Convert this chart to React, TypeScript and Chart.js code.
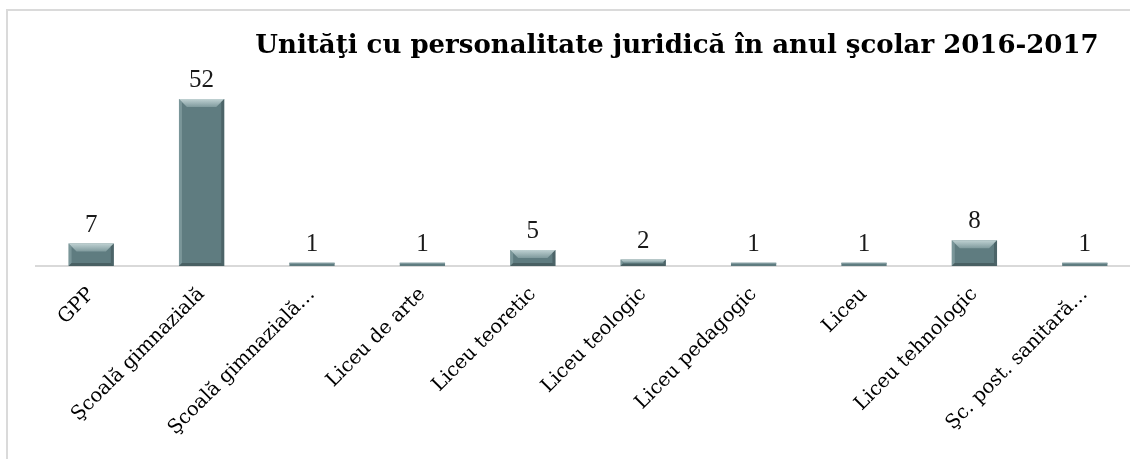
import React, { useEffect, useRef } from "react";
import { Chart, registerables } from "chart.js";

Chart.register(...registerables);

const categories = [
  "GPP",
  "Şcoală gimnazială",
  "Şcoală gimnazială…",
  "Liceu de arte",
  "Liceu teoretic",
  "Liceu teologic",
  "Liceu pedagogic",
  "Liceu",
  "Liceu tehnologic",
  "Şc. post. sanitară…",
];
const values = [7, 52, 1, 1, 5, 2, 1, 1, 8, 1];
const chartTitle = "Unităţi cu personalitate juridică în anul şcolar 2016-2017";

const SERIF = '"DejaVu Serif", "Liberation Serif", serif';
const SERIF2 = '"Liberation Serif", "DejaVu Serif", serif';

const bevelPlugin = {
  id: "bevel",
  afterDatasetsDraw(chart: any) {
    const ctx = chart.ctx;
    const meta = chart.getDatasetMeta(0);
    meta.data.forEach((bar: any) => {
      const w = bar.width;
      const left = bar.x - w / 2;
      const right = bar.x + w / 2;
      const top = bar.y;
      const bottom = bar.base;
      const h = bottom - top;
      if (h < 4) {
        ctx.save();
        ctx.fillStyle = "#86a0a3";
        ctx.fillRect(left, top, w, 1);
        ctx.restore();
        return;
      }
      const b = Math.min(8, h / 2);
      const s = Math.min(3, h / 3);
      ctx.save();
      const g = ctx.createLinearGradient(0, top, 0, top + b);
      g.addColorStop(0, "#bfd1d2");
      g.addColorStop(1, "#7f9a9d");
      ctx.fillStyle = g;
      ctx.beginPath();
      ctx.moveTo(left, top);
      ctx.lineTo(right, top);
      ctx.lineTo(right - b, top + b);
      ctx.lineTo(left + b, top + b);
      ctx.closePath();
      ctx.fill();
      ctx.fillStyle = "rgba(150,175,178,0.5)";
      ctx.beginPath();
      ctx.moveTo(left, top);
      ctx.lineTo(left + s, top + s);
      ctx.lineTo(left + s, bottom - s);
      ctx.lineTo(left, bottom);
      ctx.closePath();
      ctx.fill();
      ctx.fillStyle = "rgba(60,80,83,0.55)";
      ctx.beginPath();
      ctx.moveTo(right, top);
      ctx.lineTo(right - s, top + s);
      ctx.lineTo(right - s, bottom - s);
      ctx.lineTo(right, bottom);
      ctx.closePath();
      ctx.fill();
      ctx.fillStyle = "rgba(55,72,75,0.55)";
      ctx.beginPath();
      ctx.moveTo(left, bottom);
      ctx.lineTo(left + s, bottom - s);
      ctx.lineTo(right - s, bottom - s);
      ctx.lineTo(right, bottom);
      ctx.closePath();
      ctx.fill();
      ctx.restore();
    });
  },
};

const labelsPlugin = {
  id: "valueLabels",
  afterDatasetsDraw(chart: any) {
    const ctx = chart.ctx;
    const meta = chart.getDatasetMeta(0);
    const data = chart.data.datasets[0].data;
    ctx.save();
    ctx.font = `25px ${SERIF2}`;
    ctx.fillStyle = "#1a1a1a";
    ctx.textAlign = "center";
    ctx.textBaseline = "alphabetic";
    meta.data.forEach((bar: any, i: number) => {
      ctx.fillText(String(data[i]), bar.x, bar.y - 12);
    });
    ctx.restore();
  },
};

const titlePlugin = {
  id: "customTitle",
  afterDraw(chart: any) {
    const ctx = chart.ctx;
    ctx.save();
    ctx.font = `bold 26px ${SERIF}`;
    ctx.fillStyle = "#000";
    ctx.textAlign = "center";
    ctx.textBaseline = "middle";
    ctx.fillText(chartTitle, 677, 46);
    ctx.restore();
  },
};

export default function App() {
  const ref = useRef<HTMLCanvasElement>(null);
  useEffect(() => {
    if (!ref.current) return;
    const chart = new Chart(ref.current, {
      type: "bar",
      data: {
        labels: categories,
        datasets: [
          {
            data: values,
            backgroundColor: "#5f7c80",
            borderWidth: 0,
            barPercentage: 0.41,
            categoryPercentage: 1,
          },
        ],
      },
      options: {
        responsive: false,
        animation: false,
        layout: { padding: { left: 36, right: 10, top: 73.4, bottom: 0 } },
        plugins: {
          legend: { display: false },
          title: { display: false },
          tooltip: { enabled: false },
        },
        scales: {
          y: { display: false, min: 0, max: 60 },
          x: {
            afterFit: (s: any) => {
              s.height = 459 - 266;
            },
            grid: { display: false, drawTicks: false },
            border: { display: true, color: "#d9d9d9", width: 2 },
            ticks: {
              autoSkip: false,
              minRotation: 45,
              maxRotation: 45,
              padding: 17,
              color: "#000",
              font: { family: SERIF, size: 19.5 },
            },
          },
        },
      },
      plugins: [bevelPlugin, labelsPlugin, titlePlugin],
    });
    return () => chart.destroy();
  }, []);
  return (
    <div
      style={{
        position: "fixed",
        left: 0,
        top: 0,
        width: 1130,
        height: 459,
        overflow: "hidden",
        background: "#fff",
      }}
    >
      <div
        style={{
          position: "absolute",
          left: 6,
          top: 9,
          width: 1300,
          height: 700,
          border: "2px solid #dadada",
        }}
      />
      <canvas
        ref={ref}
        width={1150}
        height={459}
        style={{ position: "absolute", left: 0, top: 0 }}
      />
    </div>
  );
}
